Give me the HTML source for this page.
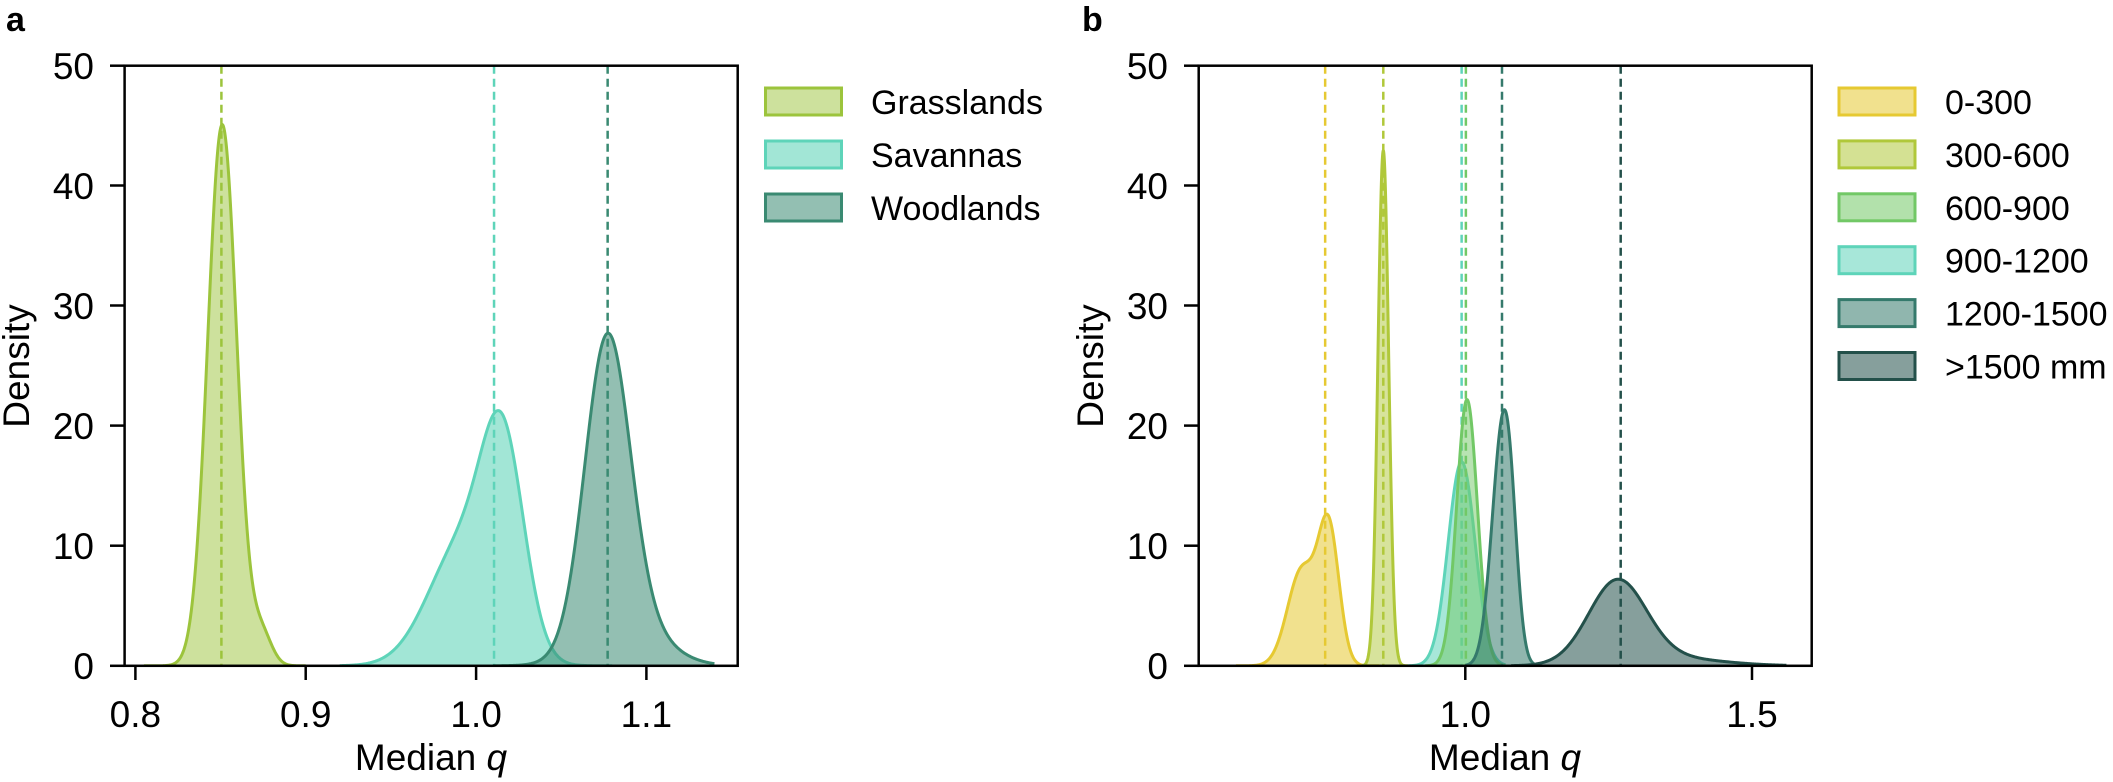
<!DOCTYPE html>
<html><head><meta charset="utf-8"><style>
html,body{margin:0;padding:0;background:#fff}
svg{display:block}
text{font-family:"Liberation Sans",sans-serif;fill:#000}
</style></head><body>
<svg id="s" width="2113" height="782" viewBox="0 0 2113 782" xmlns="http://www.w3.org/2000/svg">
<defs>
<clipPath id="ca"><rect x="124.6" y="65.7" width="613.1" height="600.1"/></clipPath>
<clipPath id="cb"><rect x="1198.7" y="65.7" width="613" height="600.1"/></clipPath>
</defs>
<g id="ga" clip-path="url(#ca)"></g>
<g id="gb" clip-path="url(#cb)"></g>
<rect x="124.6" y="65.7" width="613.1" height="600.1" fill="none" stroke="#000" stroke-width="2.5"/>
<g stroke="#000" stroke-width="2.5">
<line x1="110" y1="665.8" x2="124.6" y2="665.8"/><line x1="110" y1="545.7" x2="124.6" y2="545.7"/>
<line x1="110" y1="425.6" x2="124.6" y2="425.6"/><line x1="110" y1="305.5" x2="124.6" y2="305.5"/>
<line x1="110" y1="185.5" x2="124.6" y2="185.5"/><line x1="110" y1="65.7" x2="124.6" y2="65.7"/>
<line x1="135.4" y1="665.8" x2="135.4" y2="680"/><line x1="305.7" y1="665.8" x2="305.7" y2="680"/>
<line x1="476.1" y1="665.8" x2="476.1" y2="680"/><line x1="646.4" y1="665.8" x2="646.4" y2="680"/>
</g>
<g font-size="37" text-anchor="end">
<text x="94" y="679">0</text><text x="94" y="559">10</text><text x="94" y="439">20</text>
<text x="94" y="319">30</text><text x="94" y="199">40</text><text x="94" y="79">50</text>
</g>
<g font-size="37" text-anchor="middle">
<text x="135.4" y="727">0.8</text><text x="305.7" y="727">0.9</text><text x="476.1" y="727">1.0</text><text x="646.4" y="727">1.1</text>
<text x="431" y="770">Median <tspan font-style="italic">q</tspan></text>
<text transform="translate(29,366) rotate(-90)">Density</text>
</g>
<text x="6" y="31" font-size="34" font-weight="bold">a</text>
<rect x="1198.7" y="65.7" width="613" height="600.1" fill="none" stroke="#000" stroke-width="2.5"/>
<g stroke="#000" stroke-width="2.5">
<line x1="1184" y1="665.8" x2="1198.7" y2="665.8"/><line x1="1184" y1="545.7" x2="1198.7" y2="545.7"/>
<line x1="1184" y1="425.6" x2="1198.7" y2="425.6"/><line x1="1184" y1="305.5" x2="1198.7" y2="305.5"/>
<line x1="1184" y1="185.5" x2="1198.7" y2="185.5"/><line x1="1184" y1="65.7" x2="1198.7" y2="65.7"/>
<line x1="1465.3" y1="665.8" x2="1465.3" y2="680"/><line x1="1752" y1="665.8" x2="1752" y2="680"/>
</g>
<g font-size="37" text-anchor="end">
<text x="1168" y="679">0</text><text x="1168" y="559">10</text><text x="1168" y="439">20</text>
<text x="1168" y="319">30</text><text x="1168" y="199">40</text><text x="1168" y="79">50</text>
</g>
<g font-size="37" text-anchor="middle">
<text x="1465.3" y="727">1.0</text><text x="1752" y="727">1.5</text>
<text x="1505" y="770">Median <tspan font-style="italic">q</tspan></text>
<text transform="translate(1103,366) rotate(-90)">Density</text>
</g>
<text x="1082" y="31" font-size="34" font-weight="bold">b</text>
<g id="legs"></g>
</svg>
<script>
var NS="http://www.w3.org/2000/svg";
function el(p,t,a){var e=document.createElementNS(NS,t);for(var k in a)e.setAttribute(k,a[k]);p.appendChild(e);return e;}
function g(x,m,s){return Math.exp(-0.5*((x-m)/s)*((x-m)/s))/(s*2.50663);}
function mix(c){return function(x){var v=0;for(var i=0;i<c.length;i++)v+=c[i][0]*g(x,c[i][1],c[i][2]);return v;};}
var Y0=665.8,YS=12.01;
function draw(par,X,f,lo,hi,col,med,op){
  var d="M"+X(lo)+","+Y0,n=400;
  for(var i=0;i<=n;i++){var q=lo+(hi-lo)*i/n;d+=" L"+X(q).toFixed(2)+","+(Y0-f(q)*YS).toFixed(2);}
  d+=" L"+X(hi)+","+Y0+" Z";
  el(par,"path",{d:d,fill:col,"fill-opacity":op,stroke:"none"});
  var d2="";
  for(var i=0;i<=n;i++){var q=lo+(hi-lo)*i/n;d2+=(i?" L":"M")+X(q).toFixed(2)+","+(Y0-f(q)*YS).toFixed(2);}
  el(par,"path",{d:d2,fill:"none",stroke:col,"stroke-width":3});
  el(par,"line",{x1:X(med),x2:X(med),y1:65.7,y2:Y0,stroke:col,"stroke-width":2.5,"stroke-dasharray":"8,5"});
}
var XA=function(q){return 135.4+(q-0.8)*1703;};
var XB=function(q){return 1465.3+(q-1)*573.4;};
var ga=document.getElementById("ga"),gb=document.getElementById("gb");
draw(ga,XA,mix([[0.96,0.851,0.0085],[0.04,0.874,0.006]]),0.805,0.9,"#9cc43c",0.8505,0.5);
draw(ga,XA,mix([[0.5,1.016,0.0125],[0.5,0.992,0.02]]),0.92,1.08,"#5ed4b9",1.0106,0.58);
draw(ga,XA,mix([[0.8,1.077,0.0131],[0.2,1.088,0.021]]),1.01,1.14,"#3a8a72",1.0773,0.55);
draw(gb,XB,mix([[0.5,0.715,0.025],[0.5,0.762,0.018]]),0.6,0.85,"#e6c932",0.7556,0.55);
draw(gb,XB,mix([[1,0.857,0.0093]]),0.82,0.9,"#b0c83a",0.857,0.5);
draw(gb,XB,mix([[1,0.9936,0.0235]]),0.9,1.07,"#5ed4b9",0.9936,0.55);
draw(gb,XB,mix([[1,1.003,0.018]]),0.93,1.07,"#72c866",1.001,0.5);
draw(gb,XB,mix([[0.75,1.062,0.018],[0.25,1.078,0.0136]]),1.0,1.12,"#357a6c",1.064,0.55);
draw(gb,XB,mix([[0.85,1.265,0.05],[0.15,1.35,0.09]]),1.08,1.56,"#23504a",1.271,0.55);
var L=document.getElementById("legs");
function leg(x,tx,y,col,op,label){
  el(L,"rect",{x:x,y:y,width:76,height:27,fill:col,"fill-opacity":op,stroke:col,"stroke-width":3});
  var t=el(L,"text",{x:tx,y:y+26,"font-size":34});t.textContent=label;
}
leg(765.5,871,88,"#9cc43c",0.5,"Grasslands");
leg(765.5,871,141,"#5ed4b9",0.58,"Savannas");
leg(765.5,871,194,"#3a8a72",0.55,"Woodlands");
var lb=[["#e6c932","0-300"],["#b0c83a","300-600"],["#72c866","600-900"],["#5ed4b9","900-1200"],["#357a6c","1200-1500"],["#23504a",">1500 mm"]];
for(var i=0;i<6;i++)leg(1839,1945,88+52.9*i,lb[i][0],0.55,lb[i][1]);
</script>
</body></html>
